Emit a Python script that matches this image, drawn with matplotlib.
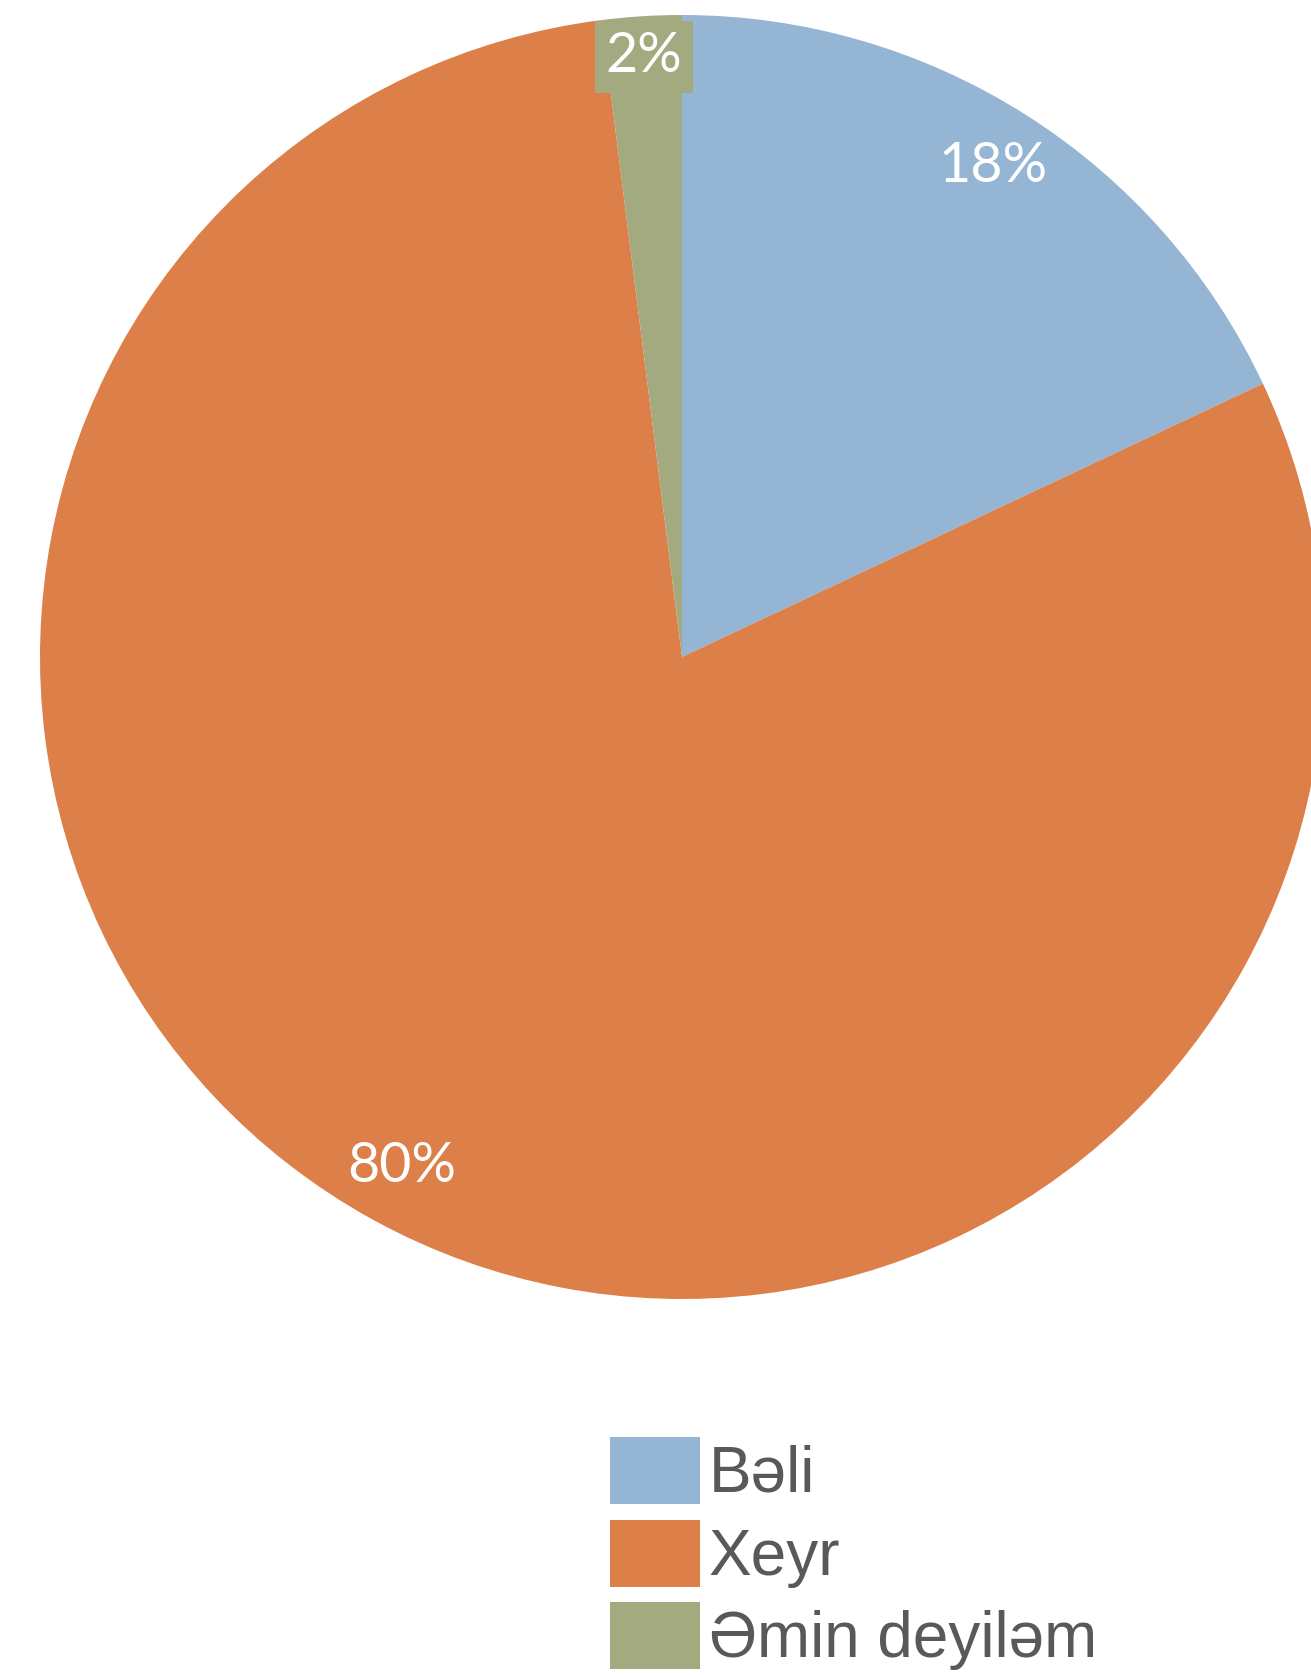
import numpy as np
import matplotlib
matplotlib.use("Agg")
import matplotlib.pyplot as plt

# survey answers
labels = ['Bəli', 'Xeyr', 'Əmin deyiləm']
shares = [18, 80, 2]
colors = ['#94B5D3', '#DD7F48', '#A4AA7F']

W, H = 1311, 1675
fig = plt.figure(figsize=(W / 100, H / 100), dpi=100)
ax = fig.add_axes([0, 0, 1, 1])

cx, cy, R = 682, H - 657, 642
wedges, _ = ax.pie(shares, colors=colors, startangle=90, counterclock=False,
                   center=(cx, cy), radius=R, frame=True,
                   wedgeprops=dict(linewidth=0))
ax.set_xlim(0, W)
ax.set_ylim(0, H)
ax.axis('off')

# percentage labels placed at the middle angle of each wedge
dist = [0.905, 0.905, 0.94]
for w, v, d in zip(wedges, shares, dist):
    ang = np.deg2rad((w.theta1 + w.theta2) / 2)
    x = cx + d * R * np.cos(ang)
    y = cy + d * R * np.sin(ang)
    kw = {}
    if v < 5:
        kw['bbox'] = dict(boxstyle='square,pad=0.19', fc=w.get_facecolor(), ec='none')
        y -= 2
    ax.text(x, y, f'{v}%', ha='center', va='center', color='white',
            fontsize=40, family='Lato', **kw)

leg = ax.legend(wedges, labels, loc='upper left',
                bbox_to_anchor=(610 / W, 1 - 1437 / H), bbox_transform=fig.transFigure,
                frameon=False, prop={'family': ['Liberation Sans', 'DejaVu Sans'], 'size': 46},
                handlelength=1.41, handleheight=1.236,
                handletextpad=0.14, labelspacing=0.23, borderaxespad=0, borderpad=0)
for t in leg.get_texts():
    t.set_color('#595959')

fig.savefig('out.png', dpi=100)
